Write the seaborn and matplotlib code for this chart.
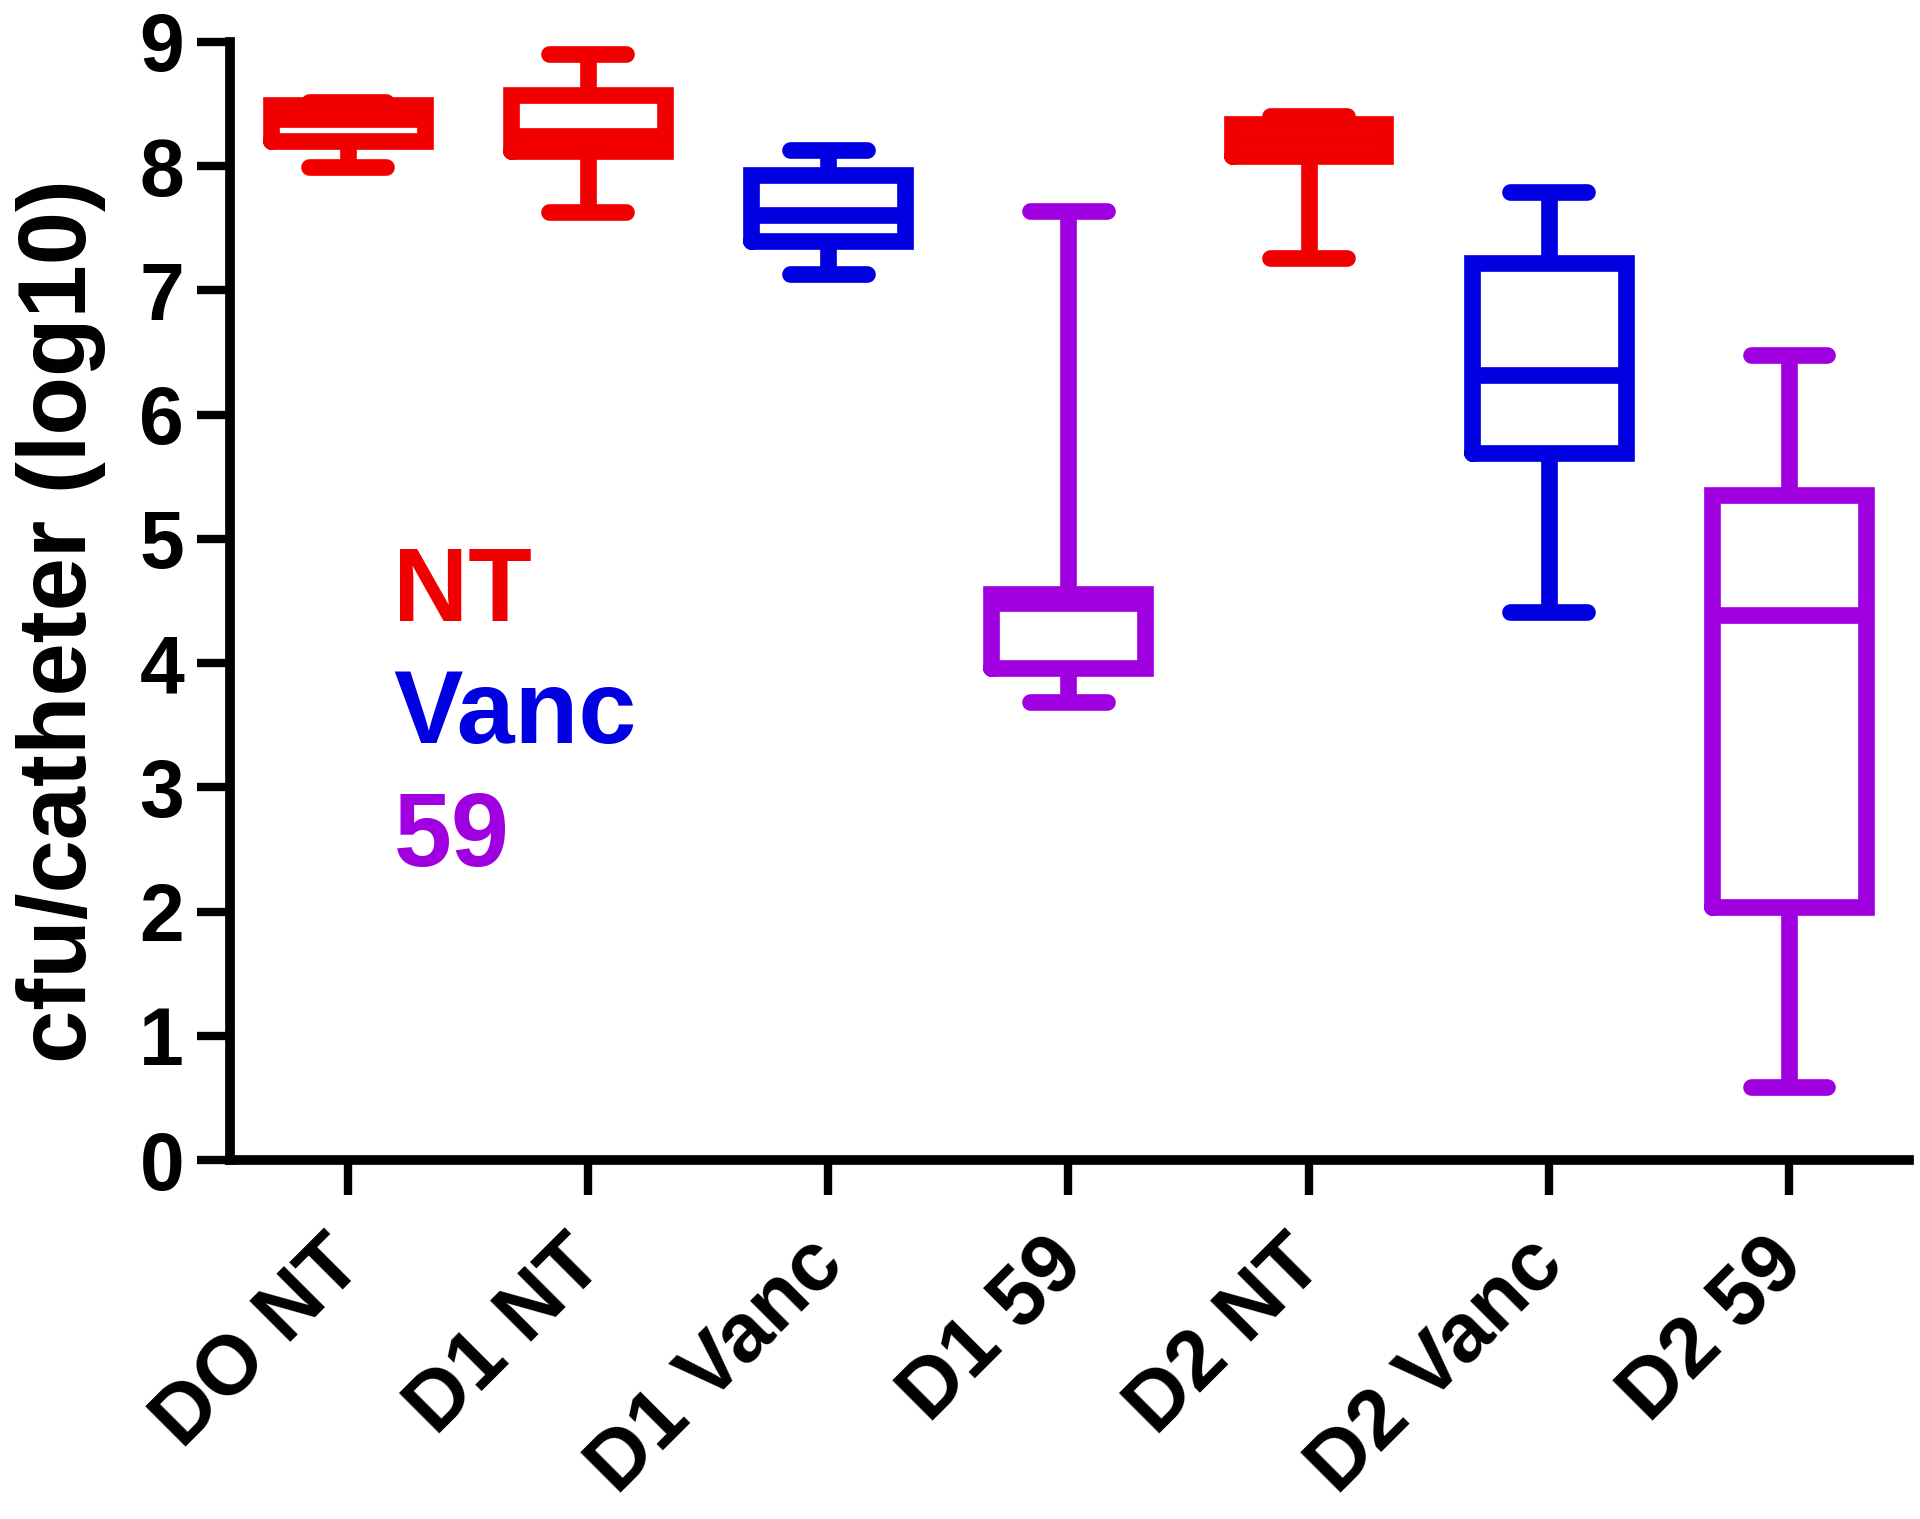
import numpy as np
import pandas as pd
import matplotlib
matplotlib.use("Agg")
import matplotlib.pyplot as plt
import matplotlib.transforms as mtransforms
import seaborn as sns

# groups and their five-number summaries (log10 cfu/catheter)
groups = ["DO NT", "D1 NT", "D1 Vanc", "D1 59", "D2 NT", "D2 Vanc", "D2 59"]
mins = [7.99, 7.63, 7.13, 3.69, 7.26, 4.41, 0.59]
q1s = [8.20, 8.12, 7.40, 3.96, 8.08, 5.69, 2.04]
medians = [8.38, 8.24, 7.61, 4.48, 8.21, 6.32, 4.39]
q3s = [8.49, 8.57, 7.93, 4.56, 8.34, 7.22, 5.35]
maxs = [8.52, 8.90, 8.13, 7.64, 8.40, 7.79, 6.48]

treat_colors = {"NT": "#f00000", "Vanc": "#0000e0", "59": "#a000e0"}
legend_labels = ["NT", "Vanc", "59"]

# five points per group give exactly these quartiles with linear percentiles
rows = []
for g, a, b, c, d, e in zip(groups, mins, q1s, medians, q3s, maxs):
    for v in (a, b, c, d, e):
        rows.append({"group": g, "value": v})
df = pd.DataFrame(rows)

palette = {g: treat_colors[g.split(" ")[1]] for g in groups}

sns.set_style("ticks")
plt.rcParams["font.family"] = ["Liberation Sans", "DejaVu Sans"]
plt.rcParams["font.weight"] = "bold"
plt.rcParams["text.color"] = "black"
plt.rcParams["axes.labelcolor"] = "black"

fig = plt.figure(figsize=(19.2, 15.19), dpi=100)
ax = fig.add_axes([0.1198, 0.2363, 0.8745, 0.7361])

sns.boxplot(data=df, x="group", y="value", hue="group", palette=palette,
            order=groups, fill=False, saturation=1, width=0.64, whis=(0, 100),
            linewidth=12, showfliers=False, legend=False, ax=ax,
            boxprops=dict(solid_joinstyle="miter"),
            medianprops=dict(solid_capstyle="butt"),
            capprops=dict(solid_capstyle="round"))

ax.set_xlim(-0.49, 6.5)
ax.set_ylim(0, 9)
ax.set_yticks(range(0, 10))
ax.spines["right"].set_visible(False)
ax.spines["top"].set_visible(False)
for s in ["left", "bottom"]:
    ax.spines[s].set_linewidth(7)
    ax.spines[s].set_color("black")
    ax.spines[s].set_capstyle("projecting")

ax.tick_params(axis="y", length=24, width=6, labelsize=58, pad=9, colors="black")
ax.tick_params(axis="x", length=25, width=6, labelsize=60, pad=10, colors="black")
ax.set_xticks(range(len(groups)))
ax.set_xticklabels(groups, rotation=45, ha="right", va="top",
                   rotation_mode="anchor", fontweight="bold")
shift = mtransforms.ScaledTranslation(-0.25, -0.15, fig.dpi_scale_trans)
for lab in ax.get_xticklabels():
    lab.set_transform(lab.get_transform() + shift)
for lab in ax.get_yticklabels():
    lab.set_fontweight("bold")

ax.set_xlabel("")
ax.set_ylabel("cfu/catheter (log10)", fontsize=69, fontweight="bold")
ax.yaxis.label.set_va("center")
ax.yaxis.set_label_coords(-0.1007, 0.482)

# coloured treatment key inside the plot
for lab, yb in zip(legend_labels, [4.34, 3.36, 2.37]):
    ax.text(0.19, yb, lab, color=treat_colors[lab], fontsize=75,
            fontweight="bold", ha="left", va="baseline")

fig.savefig("out.png", dpi=100)
